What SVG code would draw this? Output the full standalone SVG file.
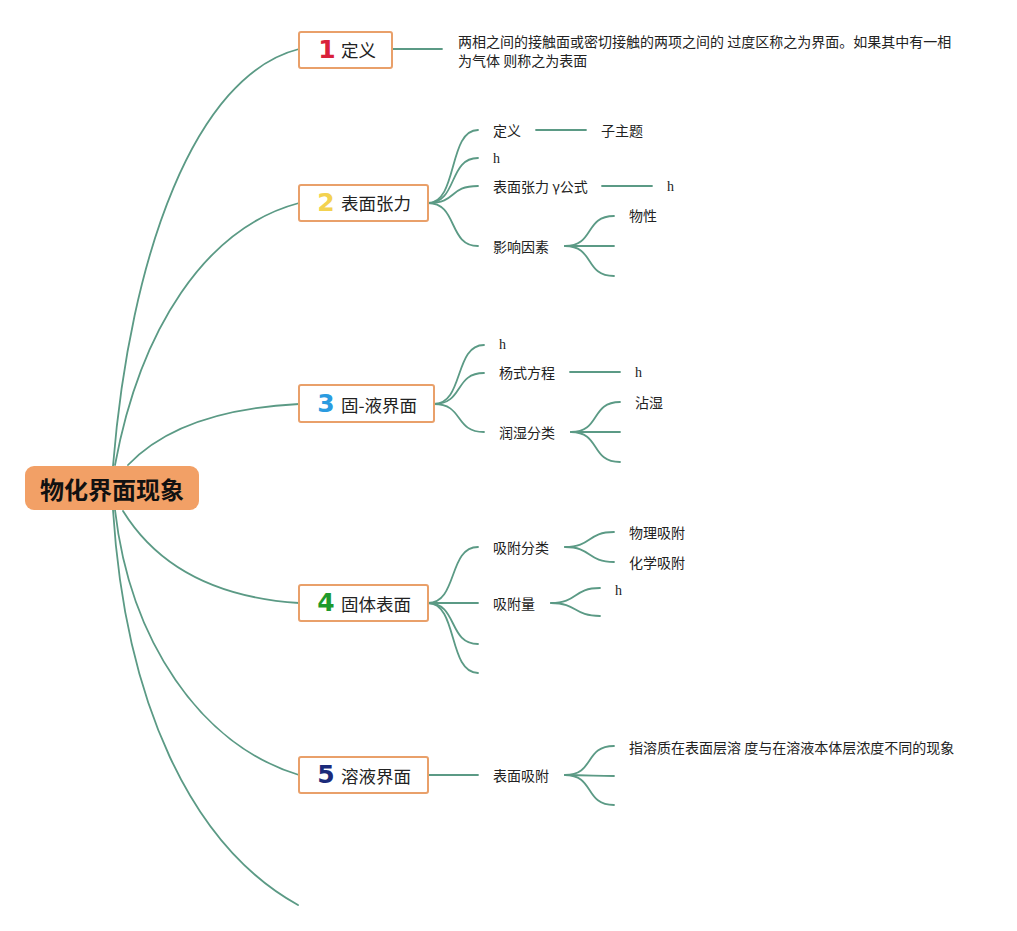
<svg xmlns="http://www.w3.org/2000/svg" width="1017" height="931" viewBox="0 0 1017 931">
<style>
.c{fill:none;stroke:#5B9A85;stroke-width:1.8;stroke-linecap:round}
.box{fill:#fff;stroke:#E9A06A;stroke-width:2}
.bt{font-family:"Noto Sans CJK SC","Liberation Sans",sans-serif;font-size:17.5px;fill:#222;dominant-baseline:central}
.num{font-family:"DejaVu Sans","Liberation Sans",sans-serif;font-weight:bold;font-size:25px;dominant-baseline:central;text-anchor:middle}
.t{font-family:"Noto Sans CJK SC","Liberation Sans",sans-serif;font-size:14px;fill:#222;dominant-baseline:central}
.h{font-family:"Liberation Serif",serif;font-size:14px;fill:#222;dominant-baseline:central}
</style>
<rect width="1017" height="931" fill="#fff"/>
<g id="connectors">
<path class="c" d="M113,466 C130,255 195,75 299,49"/>
<path class="c" d="M115,465 C140,330 205,228 299,203"/>
<path class="c" d="M128,465 Q180,410 299,404"/>
<path class="c" d="M123,511 Q175,595 299,603"/>
<path class="c" d="M115,510 C130,640 200,745 299,775"/>
<path class="c" d="M113,510 C125,700 190,845 298,905"/>
<path class="c" d="M392,49 H442"/>
<path class="c" d="M428,203 C458,203 448,130 478,130"/>
<path class="c" d="M428,203 C458,203 448,158 478,158"/>
<path class="c" d="M428,203 C458,203 448,186 478,186"/>
<path class="c" d="M428,203 C458,203 448,246 478,246"/>
<path class="c" d="M536,130 H586"/>
<path class="c" d="M602,186 H652"/>
<path class="c" d="M565,246 C595,246 584,216 614,216"/>
<path class="c" d="M565,246 H614"/>
<path class="c" d="M565,246 C595,246 584,276 614,276"/>
<path class="c" d="M434,404 C464,404 454,345 484,345"/>
<path class="c" d="M434,404 C464,404 454,373 484,373"/>
<path class="c" d="M434,404 C464,404 454,432 484,432"/>
<path class="c" d="M570,372 H620"/>
<path class="c" d="M571,432 C601,432 590,402 620,402"/>
<path class="c" d="M571,432 H620"/>
<path class="c" d="M571,432 C601,432 590,462 620,462"/>
<path class="c" d="M428,603 C458,603 448,547 478,547"/>
<path class="c" d="M428,603 H478"/>
<path class="c" d="M428,603 C458,603 448,644 478,644"/>
<path class="c" d="M428,603 C458,603 448,673 478,673"/>
<path class="c" d="M565,547 C592,547 587,532 614,532"/>
<path class="c" d="M565,547 C592,547 587,562 614,562"/>
<path class="c" d="M551,603 C578,603 573,588 600,588"/>
<path class="c" d="M551,603 C578,603 573,616 600,616"/>
<path class="c" d="M428,775 H478"/>
<path class="c" d="M565,775 C595,775 584,746 614,746"/>
<path class="c" d="M565,775 C590,775 595,776 614,776"/>
<path class="c" d="M565,775 C595,775 584,805 614,805"/>
</g>
<g id="root">
<rect x="25" y="466" width="174" height="44" rx="9" fill="#F2A066"/>
<text x="112" y="488" text-anchor="middle" style="font-family:'Noto Sans CJK SC',sans-serif;font-weight:bold;font-size:24px;fill:#111;dominant-baseline:central">物化界面现象</text>
</g>
<g id="n1">
<rect class="box" x="299" y="32" width="93" height="36" rx="2"/>
<text class="num" x="327" y="49" fill="#D9213A">1</text>
<text class="bt" x="341" y="49">定义</text>
<text class="t" x="458" y="41">两相之间的接触面或密切接触的两项之间的 过度区称之为界面。如果其中有一相</text>
<text class="t" x="458" y="60">为气体 则称之为表面</text>
</g>
<g id="n2">
<rect class="box" x="299" y="185" width="129" height="36" rx="2"/>
<text class="num" x="326" y="202" fill="#F3D250">2</text>
<text class="bt" x="341" y="202">表面张力</text>
<text class="t" x="493" y="130">定义</text>
<text class="t" x="601" y="130">子主题</text>
<text class="h" x="493" y="158">h</text>
<text class="t" x="493" y="186">表面张力 γ公式</text>
<text class="h" x="667" y="186">h</text>
<text class="t" x="493" y="246">影响因素</text>
<text class="t" x="629" y="215">物性</text>
</g>
<g id="n3">
<rect class="box" x="299" y="385" width="135" height="37" rx="2"/>
<text class="num" x="326" y="403" fill="#2A9BE0">3</text>
<text class="bt" x="341" y="404">固-液界面</text>
<text class="h" x="499" y="344">h</text>
<text class="t" x="499" y="372">杨式方程</text>
<text class="h" x="635" y="372">h</text>
<text class="t" x="499" y="432">润湿分类</text>
<text class="t" x="635" y="402">沾湿</text>
</g>
<g id="n4">
<rect class="box" x="299" y="585" width="129" height="36" rx="2"/>
<text class="num" x="326" y="602" fill="#1E9A2C">4</text>
<text class="bt" x="341" y="603">固体表面</text>
<text class="t" x="493" y="547">吸附分类</text>
<text class="t" x="629" y="532">物理吸附</text>
<text class="t" x="629" y="562">化学吸附</text>
<text class="t" x="493" y="603">吸附量</text>
<text class="h" x="615" y="590">h</text>
</g>
<g id="n5">
<rect class="box" x="299" y="757" width="129" height="36" rx="2"/>
<text class="num" x="326" y="774" fill="#1B2A7A">5</text>
<text class="bt" x="341" y="775">溶液界面</text>
<text class="t" x="493" y="775">表面吸附</text>
<text class="t" x="629" y="747">指溶质在表面层溶 度与在溶液本体层浓度不同的现象</text>
</g>
</svg>
